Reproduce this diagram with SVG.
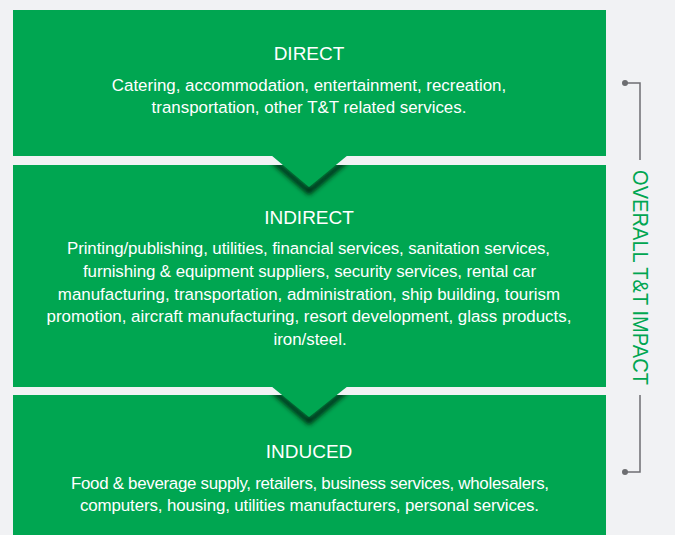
<svg xmlns="http://www.w3.org/2000/svg" width="675" height="535" viewBox="0 0 675 535">
<defs>
<style>
.box{fill:#00a651}
.title{font-family:"Liberation Sans",Arial,sans-serif;font-size:19px;fill:#ffffff;text-anchor:middle}
.body{font-family:"Liberation Sans",Arial,sans-serif;font-size:16.9px;fill:#ffffff;text-anchor:middle}
.side{font-family:"Liberation Sans",Arial,sans-serif;font-size:22px;fill:#00a651;text-anchor:middle}
.brk{fill:none;stroke:#6d6e71;stroke-width:1.5}
.dot{fill:#6d6e71}
</style>
<filter id="sh" x="-20%" y="-50%" width="140%" height="200%">
<feGaussianBlur stdDeviation="2.5"/>
</filter>
<clipPath id="c2"><rect x="13" y="165" width="593" height="222"/></clipPath>
<clipPath id="c3"><rect x="13" y="395" width="593" height="140"/></clipPath>
</defs>
<rect width="675" height="535" fill="#f1f2f4"/>

<g id="indirect">
<rect class="box" x="13" y="165" width="593" height="222"/>
<text class="title" x="309" y="224">INDIRECT</text>
<text class="body" x="308.5" y="254" textLength="483">Printing/publishing, utilities, financial services, sanitation services,</text>
<text class="body" x="309.5" y="277" textLength="453">furnishing &amp; equipment suppliers, security services, rental car</text>
<text class="body" x="309" y="300">manufacturing, transportation, administration, ship building, tourism</text>
<text class="body" x="309" y="322">promotion, aircraft manufacturing, resort development, glass products,</text>
<text class="body" x="310" y="345">iron/steel.</text>
</g>

<g id="induced">
<rect class="box" x="13" y="395" width="593" height="140"/>
<text class="title" x="309" y="458">INDUCED</text>
<text class="body" x="310" y="489" textLength="478">Food &amp; beverage supply, retailers, business services, wholesalers,</text>
<text class="body" x="309.5" y="511" textLength="459">computers, housing, utilities manufacturers, personal services.</text>
</g>

<g id="connectors">
<g clip-path="url(#c2)">
<polygon points="272,157 309,188 347,157 347,163 309,195 272,163" fill="#06200f" filter="url(#sh)"/>
</g>
<polygon class="box" points="271,155 348,155 309,187"/>
<g clip-path="url(#c3)">
<polygon points="272,387 309,418 347,387 347,393 309,425 272,393" fill="#06200f" filter="url(#sh)"/>
</g>
<polygon class="box" points="271,386 348,386 309,417"/>
<polyline class="brk" points="625,83 640,83 640,160"/>
<circle class="dot" cx="625" cy="83" r="3"/>
<polyline class="brk" points="640,395 640,472 625,472"/>
<circle class="dot" cx="625" cy="472" r="3"/>
</g>

<g id="direct">
<rect class="box" x="13" y="10" width="593" height="146"/>
<text class="title" x="309" y="60">DIRECT</text>
<text class="body" x="309" y="91">Catering, accommodation, entertainment, recreation,</text>
<text class="body" x="309" y="113">transportation, other T&amp;T related services.</text>
</g>

<g id="overall">
<text class="side" transform="translate(633,277.5) rotate(90)" textLength="215" lengthAdjust="spacingAndGlyphs">OVERALL T&amp;T IMPACT</text>
</g>
</svg>
